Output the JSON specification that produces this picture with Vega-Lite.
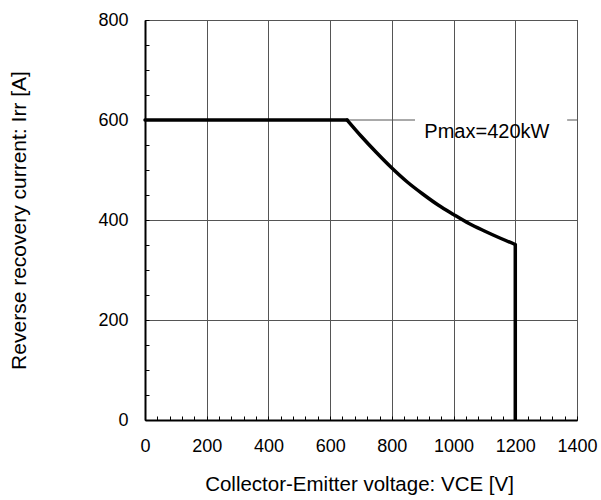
{
  "$schema": "https://vega.github.io/schema/vega-lite/v6.json",
  "width": 432,
  "height": 400,
  "autosize": {"type": "none"},
  "padding": {"left": 145, "top": 20, "right": 24, "bottom": 80},
  "background": "white",
  "config": {
    "font": "Liberation Sans",
    "view": {"stroke": "#000", "strokeWidth": 1}
  },
  "datasets": {
    "curve": [
      {"v": 0, "i": 600, "part": "flat"},
      {"v": 655, "i": 600, "part": "flat"},
      {"v": 655, "i": 600, "part": "power"},
      {"v": 700, "i": 568, "part": "power"},
      {"v": 750, "i": 535, "part": "power"},
      {"v": 800, "i": 504, "part": "power"},
      {"v": 850, "i": 476, "part": "power"},
      {"v": 900, "i": 452, "part": "power"},
      {"v": 950, "i": 430, "part": "power"},
      {"v": 1000, "i": 411, "part": "power"},
      {"v": 1050, "i": 393, "part": "power"},
      {"v": 1100, "i": 378, "part": "power"},
      {"v": 1150, "i": 364, "part": "power"},
      {"v": 1200, "i": 351, "part": "power"},
      {"v": 1200, "i": 351, "part": "drop"},
      {"v": 1200, "i": 0, "part": "drop"}
    ]
  },
  "encoding": {
    "x": {
      "field": "v", "type": "quantitative",
      "scale": {"domain": [0, 1400], "nice": false},
      "axis": {
        "title": "Collector-Emitter voltage: VCE [V]",
        "titleFont": "Liberation Sans", "titleFontSize": 20.5, "titleFontWeight": "normal", "titleColor": "#000",
        "titlePadding": 19,
        "titleX": 214,
        "tickCount": 100,
        "values": [0,40,80,120,160,200,240,280,320,360,400,440,480,520,560,600,640,680,720,760,800,840,880,920,960,1000,1040,1080,1120,1160,1200,1240,1280,1320,1360,1400],
        "labelExpr": "datum.value % 200 === 0 ? datum.label : ''",
        "labelOverlap": false, "labelFlush": false,
        "labelFont": "Liberation Sans", "labelFontSize": 18, "labelColor": "#000", "labelPadding": 21,
        "format": "d",
        "ticks": true, "tickSize": -4, "tickColor": "#000", "tickWidth": 1,
        "domain": true, "domainColor": "#000", "domainWidth": 2,
        "grid": true, "gridColor": "#555", "gridWidth": 1,
        "gridOpacity": {"condition": {"test": "datum.value % 200 === 0", "value": 1}, "value": 0}
      }
    },
    "y": {
      "field": "i", "type": "quantitative",
      "scale": {"domain": [0, 800], "nice": false},
      "axis": {
        "title": "Reverse recovery current: Irr [A]",
        "titleFont": "Liberation Sans", "titleFontSize": 21, "titleFontWeight": "normal", "titleColor": "#000",
        "titlePadding": 68,
        "tickCount": 100,
        "values": [0,50,100,150,200,250,300,350,400,450,500,550,600,650,700,750,800],
        "labelExpr": "datum.value % 200 === 0 ? datum.label : ''",
        "labelOverlap": false, "labelFlush": false,
        "labelFont": "Liberation Sans", "labelFontSize": 18, "labelColor": "#000", "labelPadding": 21,
        "format": "d",
        "ticks": true, "tickSize": -4, "tickColor": "#000", "tickWidth": 1,
        "domain": true, "domainColor": "#000", "domainWidth": 2,
        "grid": true, "gridColor": "#555", "gridWidth": 1,
        "gridOpacity": {"condition": {"test": "datum.value % 200 === 0 && datum.value !== 600", "value": 1}, "value": 0}
      }
    }
  },
  "layer": [
    {
      "data": {"values": [
        {"v": 0, "v2": 875, "i": 600},
        {"v": 1368, "v2": 1400, "i": 600}
      ]},
      "mark": {"type": "rule", "color": "#555", "strokeWidth": 1},
      "encoding": {
        "x2": {"field": "v2"}
      }
    },
    {
      "data": {"name": "curve"},
      "transform": [{"filter": "datum.part === 'flat'"}],
      "mark": {"type": "line", "color": "#000", "strokeWidth": 3.5, "strokeCap": "round"},
      "encoding": {}
    },
    {
      "data": {"name": "curve"},
      "transform": [{"filter": "datum.part === 'power'"}],
      "mark": {"type": "line", "color": "#000", "strokeWidth": 3.5, "strokeCap": "round", "interpolate": "monotone"},
      "encoding": {}
    },
    {
      "data": {"name": "curve"},
      "transform": [{"filter": "datum.part === 'drop'"}],
      "mark": {"type": "line", "color": "#000", "strokeWidth": 3.5, "strokeCap": "butt"},
      "encoding": {}
    },
    {
      "data": {"values": [{"label": "Pmax=420kW", "v": 1108, "i": 564}]},
      "mark": {"type": "text", "font": "Liberation Sans", "fontSize": 20, "color": "#000", "align": "center", "baseline": "alphabetic"},
      "encoding": {
        "text": {"field": "label"}
      }
    }
  ]
}
